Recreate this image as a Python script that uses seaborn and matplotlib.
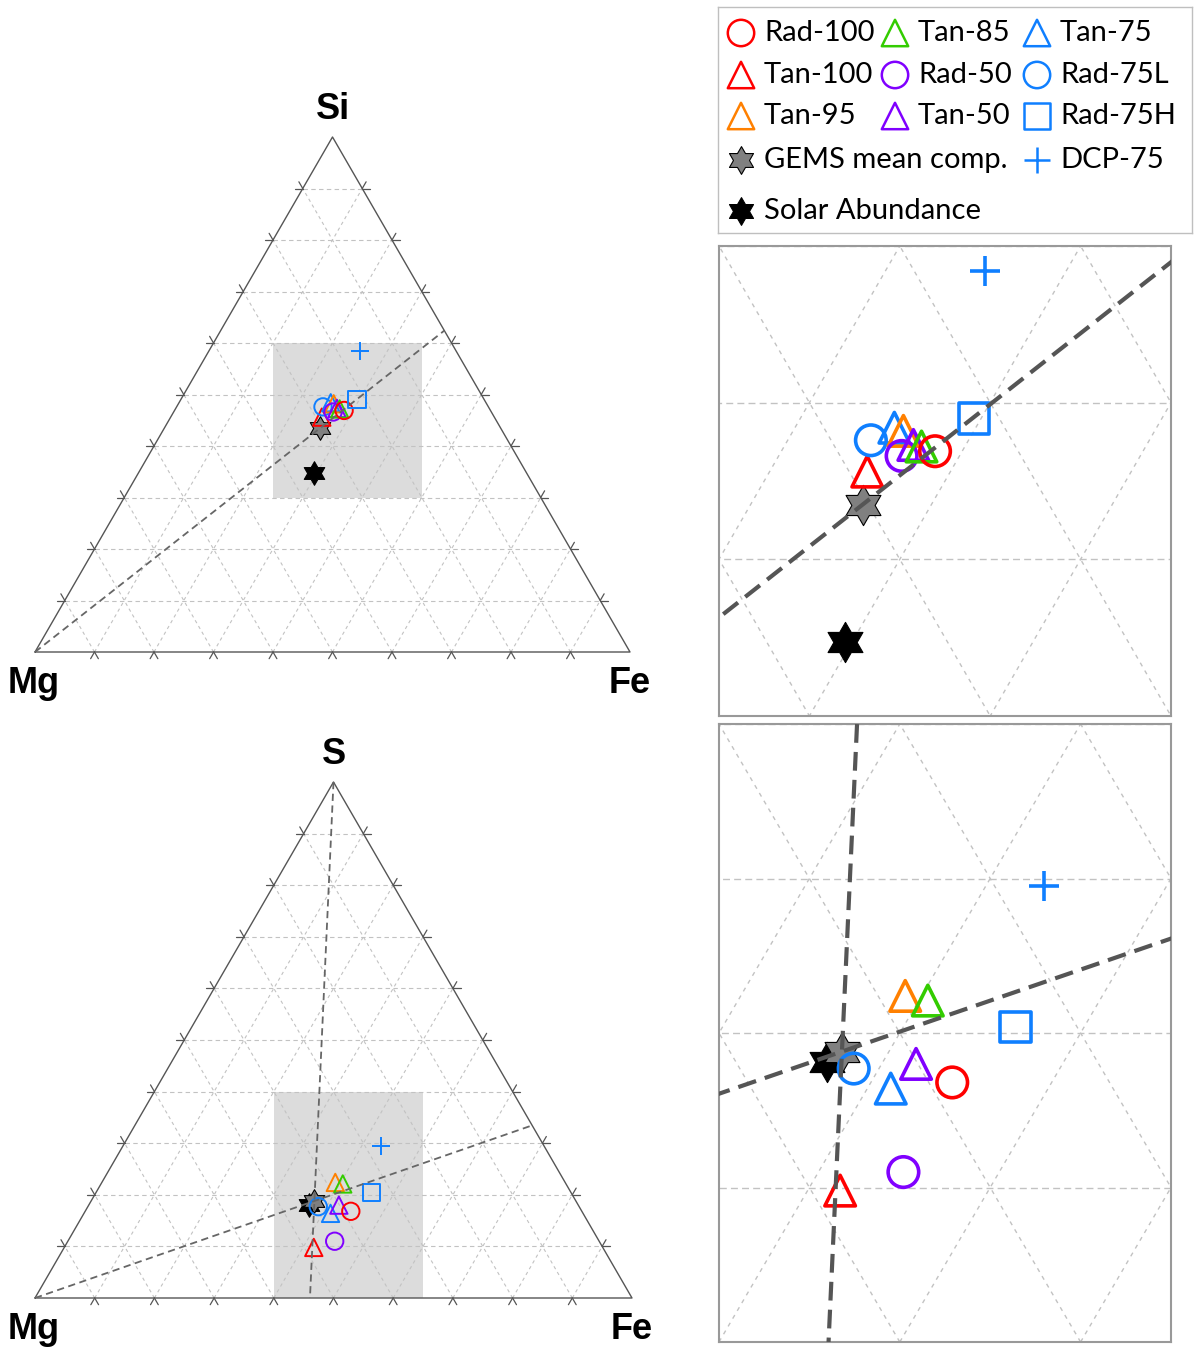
"""
Ternary composition diagrams (Mg-Si-Fe and Mg-S-Fe) with zoomed insets.
"""
import numpy as np
import pandas as pd
import matplotlib
matplotlib.use("Agg")
import matplotlib.pyplot as plt
from matplotlib.patches import Rectangle
from matplotlib.path import Path
import seaborn as sns

W, H = 1200, 1352
SQ = np.sqrt(3) / 2

# ── Data (atomic fractions) ────────────────────────────────────────────────
SAMPLES = ["Solar Abundance", "GEMS mean comp.", "Tan-100", "Rad-75L", "Tan-75",
           "Tan-95", "Rad-50", "Tan-50", "Tan-85", "Rad-100", "Rad-75H", "DCP-75"]

# Mg - Si - Fe system
MG_SI = [0.357, 0.303, 0.290, 0.278, 0.261, 0.257, 0.266, 0.256, 0.252, 0.246, 0.214, 0.161]
SI = [0.347, 0.435, 0.456, 0.476, 0.484, 0.482, 0.466, 0.473, 0.472, 0.469, 0.490, 0.584]
FE_SI = [0.296, 0.262, 0.254, 0.246, 0.255, 0.261, 0.268, 0.271, 0.276, 0.285, 0.296, 0.255]

# Mg - S - Fe system
MG_S = [0.450, 0.438, 0.484, 0.437, 0.423, 0.385, 0.443, 0.401, 0.374, 0.387, 0.334, 0.273]
S = [0.181, 0.188, 0.098, 0.177, 0.164, 0.224, 0.110, 0.180, 0.221, 0.168, 0.204, 0.295]
FE_S = [0.369, 0.374, 0.418, 0.386, 0.413, 0.391, 0.447, 0.419, 0.405, 0.445, 0.462, 0.432]

# zoom windows (cartesian x, top-element fraction)
ZOOM_X = (0.40, 0.65)
ZOOM_SI = (0.30, 0.60)
ZOOM_S = (0.00, 0.40)

# ── Style ──────────────────────────────────────────────────────────────────
RED, GREEN, BLUE = "#FF0000", "#33CC00", "#0F7FFF"
ORANGE, PURPLE = "#FF8000", "#8000FF"
STAR6 = Path.unit_regular_star(6, 1 / np.sqrt(3))

MARKER = {
    "Solar Abundance": STAR6, "GEMS mean comp.": STAR6,
    "Tan-100": "^", "Rad-75L": "o", "Tan-75": "^", "Tan-95": "^", "Rad-50": "o",
    "Tan-50": "^", "Tan-85": "^", "Rad-100": "o", "Rad-75H": "s", "DCP-75": "+",
}
COLOR = {
    "Solar Abundance": "black", "GEMS mean comp.": "#808080",
    "Tan-100": RED, "Rad-75L": BLUE, "Tan-75": BLUE, "Tan-95": ORANGE, "Rad-50": PURPLE,
    "Tan-50": PURPLE, "Tan-85": GREEN, "Rad-100": RED, "Rad-75H": BLUE, "DCP-75": BLUE,
}

# legend layout: (column, row)
LEG_POS = {
    "Rad-100": (0, 0), "Tan-100": (0, 1), "Tan-95": (0, 2),
    "GEMS mean comp.": (0, 3), "Solar Abundance": (0, 4),
    "Tan-85": (1, 0), "Rad-50": (1, 1), "Tan-50": (1, 2),
    "Tan-75": (2, 0), "Rad-75L": (2, 1), "Rad-75H": (2, 2), "DCP-75": (2, 3),
}
LEG_COL_X = [741, 895, 1037]
LEG_ROW_Y = [33, 75, 116, 160, 211]

LINE_C = "#555555"
GRID_C = "#C2C2C2"


def to_xy(mg, top, fe):
    mg, top, fe = (np.asarray(v, float) for v in (mg, top, fe))
    tot = mg + top + fe
    top, fe = top / tot, fe / tot
    return fe + top / 2, top * SQ


def make_df(mg, top, fe):
    df = pd.DataFrame({"sample": SAMPLES, "Mg": mg, "top": top, "Fe": fe})
    df["x"], df["y"] = to_xy(df["Mg"], df["top"], df["Fe"])
    return df


def px_rect(x0, y0, x1, y1):
    return [x0 / W, 1 - y1 / H, (x1 - x0) / W, (y1 - y0) / H]


def draw_sample(ax, x, y, name, ms, lw, z=3):
    m, c = MARKER[name], COLOR[name]
    kw = dict(x=[x], y=[y], marker=m, s=ms ** 2, ax=ax, zorder=z, legend=False)
    if m == "+":
        sns.scatterplot(color=c, linewidth=lw, **kw)
    elif name == "GEMS mean comp.":
        sns.scatterplot(facecolor=c, edgecolor="black", linewidth=0.8, **kw)
    elif name == "Solar Abundance":
        sns.scatterplot(facecolor=c, edgecolor=c, linewidth=0.8, **kw)
    else:
        sns.scatterplot(facecolor="none", edgecolor=c, linewidth=lw, **kw)


def draw_grid(ax, lw, dash_h, dash_d):
    for k in np.arange(1, 10) / 10:
        x, y = to_xy([1 - k, 0], [k, k], [0, 1 - k])          # const top
        ax.plot(x, y, color=GRID_C, lw=lw, dashes=dash_h, zorder=1)
        x, y = to_xy([1 - k, 0], [0, 1 - k], [k, k])          # const Fe
        ax.plot(x, y, color=GRID_C, lw=lw, dashes=dash_d, zorder=1)
        x, y = to_xy([k, k], [0, 1 - k], [1 - k, 0])          # const Mg
        ax.plot(x, y, color=GRID_C, lw=lw, dashes=dash_d, zorder=1)


def draw_ticks(ax, length=0.013):
    for k in np.arange(1, 10) / 10:
        pts = [to_xy(1 - k, 0, k), to_xy(1 - k, k, 0), to_xy(0, k, 1 - k)]
        dirs = [[(-0.5, -SQ), (0.5, -SQ)], [(-1, 0), (-0.5, SQ)], [(1, 0), (0.5, SQ)]]
        for (px, py), dd in zip(pts, dirs):
            for dx, dy in dd:
                ax.plot([px, px + length * dx], [py, py + length * dy],
                        color="#555555", lw=0.9, clip_on=False, zorder=2)


def gems_lines(df, which):
    g = df[df["sample"] == "GEMS mean comp."].iloc[0]
    lines = []
    if "Mg" in which:   # Mg corner through GEMS to the opposite edge
        t = 1 - g["Mg"]
        lines.append(to_xy([1, 0], [0, g["top"] / t], [0, g["Fe"] / t]))
    if "top" in which:  # top corner through GEMS to the base
        t = 1 - g["top"]
        lines.append(to_xy([0, g["Mg"] / t], [1, 0], [0, g["Fe"] / t]))
    return lines


def ternary_panel(fig, rect, df, top_label, zoom_top, which):
    ax = fig.add_axes(rect)
    ax.set_xlim(0, 1)
    ax.set_ylim(0, SQ)
    ax.axis("off")
    y0, y1 = zoom_top[0] * SQ, zoom_top[1] * SQ
    ax.add_patch(Rectangle((ZOOM_X[0], y0), ZOOM_X[1] - ZOOM_X[0], y1 - y0,
                           facecolor="#DCDCDC", edgecolor="none", zorder=0))
    draw_grid(ax, 0.8, (4, 3), (3, 3))
    x, y = to_xy([1, 0, 0, 1], [0, 0, 1, 0], [0, 1, 0, 0])
    ax.plot(x, y, color="#555555", lw=1.0, zorder=2, clip_on=False)
    draw_ticks(ax)
    for _, r in df.iterrows():
        big = r["sample"] in ("Solar Abundance", "GEMS mean comp.")
        draw_sample(ax, r["x"], r["y"], r["sample"], 17 if big else 12.5, 1.4)
    for lx, ly in gems_lines(df, which):
        ax.plot(lx, ly, color="#666666", lw=1.3, dashes=(4, 2.5), zorder=4)
    fkw = dict(fontsize=26, fontweight="bold", family="Liberation Sans",
               color="black", textcoords="offset points")
    ax.annotate(top_label, xy=(0.5, SQ), xytext=(0, 7), ha="center", va="bottom", **fkw)
    ax.annotate("Mg", xy=(0, 0), xytext=(-1, -10), ha="center", va="top", **fkw)
    ax.annotate("Fe", xy=(1, 0), xytext=(0, -10), ha="center", va="top", **fkw)
    return ax


def zoom_panel(fig, rect, df, zoom_top, which):
    ax = fig.add_axes(rect)
    ax.set_xlim(*ZOOM_X)
    ax.set_ylim(zoom_top[0] * SQ, zoom_top[1] * SQ)
    ax.set_xticks([])
    ax.set_yticks([])
    ax.set_xlabel("")
    ax.set_ylabel("")
    for sp in ax.spines.values():
        sp.set_color("#999999")
        sp.set_linewidth(1.5)
    draw_grid(ax, 1.0, (5, 3), (3, 3.5))
    for _, r in df.iterrows():
        big = r["sample"] in ("Solar Abundance", "GEMS mean comp.")
        draw_sample(ax, r["x"], r["y"], r["sample"], 29 if big else 22, 2.6)
    for lx, ly in gems_lines(df, which):
        ax.plot(lx, ly, color=LINE_C, lw=3.0, dashes=(4.5, 2.2), zorder=4)
    ax.set_xlim(*ZOOM_X)
    ax.set_ylim(zoom_top[0] * SQ, zoom_top[1] * SQ)
    return ax


def legend_panel(fig):
    ax = fig.add_axes(px_rect(718, 7, 1192, 233))
    ax.set_xlim(718, 1192)
    ax.set_ylim(233, 7)
    ax.set_xticks([])
    ax.set_yticks([])
    for sp in ax.spines.values():
        sp.set_color("#BFBFBF")
        sp.set_linewidth(1.0)
    for name, (c, r) in LEG_POS.items():
        mx, my = LEG_COL_X[c], LEG_ROW_Y[r]
        big = name in ("Solar Abundance", "GEMS mean comp.")
        draw_sample(ax, mx, my, name, 20 if big else 19, 1.8)
        ax.text(mx + 23, my, name, fontsize=21, family="Lato", color="black",
                va="center", ha="left")
    ax.set_xlim(718, 1192)
    ax.set_ylim(233, 7)
    return ax


sns.set_theme(style="white")
plt.rcParams["font.family"] = ["Lato", "DejaVu Sans"]
plt.rcParams["text.color"] = "black"

fig = plt.figure(figsize=(W / 100, H / 100), dpi=100)

df_si = make_df(MG_SI, SI, FE_SI)
df_s = make_df(MG_S, S, FE_S)

ternary_panel(fig, px_rect(35, 137, 630, 652), df_si, "Si", ZOOM_SI, ["Mg"])
ternary_panel(fig, px_rect(35, 782, 632, 1298), df_s, "S", ZOOM_S, ["Mg", "top"])
zoom_panel(fig, px_rect(719, 246, 1171, 716), df_si, ZOOM_SI, ["Mg"])
zoom_panel(fig, px_rect(719, 724, 1171, 1342), df_s, ZOOM_S, ["Mg", "top"])
legend_panel(fig)

fig.savefig("out.png", dpi=100)
